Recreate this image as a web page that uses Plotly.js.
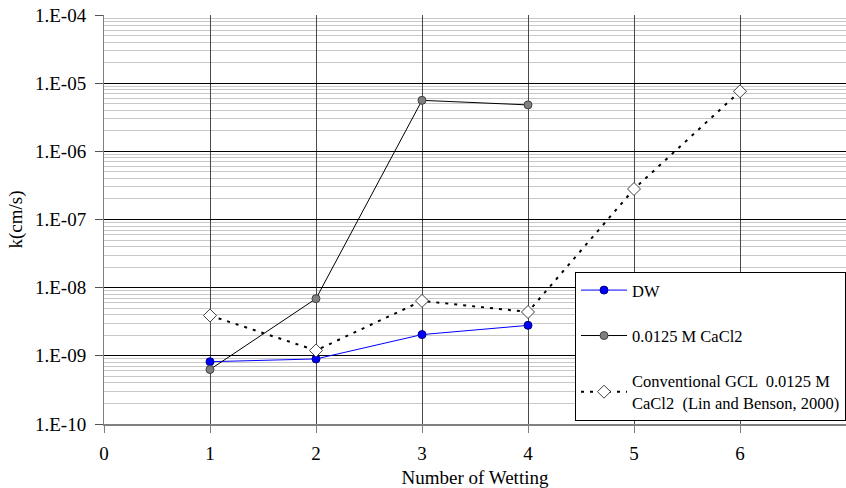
<!DOCTYPE html>
<html><head><meta charset="utf-8">
<script src="https://cdn.plot.ly/plotly-3.0.1.min.js"></script>
<style>html,body{margin:0;padding:0;background:#fff;}#chart{width:846px;height:488px;}</style>
</head><body><div id="chart"></div>
<script>
const wettingDW = [1, 2, 3, 4];
const kDW = [8.2e-10, 9.0e-10, 2.05e-9, 2.8e-9];
const wettingCaCl2 = [1, 2, 3, 4];
const kCaCl2 = [6.3e-10, 6.9e-9, 5.6e-6, 4.8e-6];
const wettingConv = [1, 2, 3, 4, 5, 6];
const kConv = [3.9e-9, 1.2e-9, 6.4e-9, 4.4e-9, 2.8e-7, 7.6e-6];
const yTickVals = [1e-10, 1e-9, 1e-8, 1e-7, 1e-6, 1e-5, 1e-4];
const yTickText = ['1.E-10', '1.E-09', '1.E-08', '1.E-07', '1.E-06', '1.E-05', '1.E-04'];
const xTickVals = [0, 1, 2, 3, 4, 5, 6, 7];

const font = "Liberation Serif";
const traces = [
  {x: wettingDW, y: kDW, name: 'DW', mode: 'lines+markers', legendgroup: 'a',
   line: {color: '#0000ff', width: 1},
   marker: {symbol: 'circle', size: 8, color: '#0000ff', line: {color: '#000080', width: 1}}},
  {x: wettingCaCl2, y: kCaCl2, name: '0.0125 M CaCl2', mode: 'lines+markers', legendgroup: 'b',
   line: {color: '#000000', width: 1},
   marker: {symbol: 'circle', size: 8, color: '#808080', line: {color: '#404040', width: 1}}},
  {x: wettingConv, y: kConv, name: 'Conventional GCL  0.0125 M<br>CaCl2  (Lin and Benson, 2000)', mode: 'lines+markers', legendgroup: 'c',
   line: {color: '#000000', width: 2, dash: '3px,6px'},
   marker: {symbol: 'diamond', size: 10, color: '#ffffff', line: {color: '#404040', width: 1}}}
];
const layout = {
  width: 846, height: 488,
  margin: {l: 104, r: 0, t: 15, b: 64},
  paper_bgcolor: '#ffffff', plot_bgcolor: '#ffffff',
  font: {family: font, size: 19, color: '#000'},
  showlegend: true,
  legend: {x: 0.635, y: 0.372, xanchor: 'left', yanchor: 'top', bgcolor: '#ffffff',
    bordercolor: '#000000', borderwidth: 1, font: {family: font, size: 16.5, color: '#000'},
    tracegroupgap: 21, itemwidth: 46},
  xaxis: {range: [0, 7], tickvals: xTickVals, ticks: 'outside', ticklen: 7, tickcolor: '#808080',
    ticklabelstandoff: 4,
    showgrid: true, gridcolor: '#4a4a4a', gridwidth: 1, zeroline: false,
    showline: true, linecolor: '#808080', linewidth: 2,
    tickfont: {family: font, size: 19},
    title: {text: 'Number of Wetting', font: {family: font, size: 19}, standoff: 8}},
  yaxis: {type: 'log', range: [-10, -4], tickvals: yTickVals, ticktext: yTickText,
    ticks: 'outside', ticklen: 8, tickcolor: '#555', ticklabelstandoff: 5,
    showgrid: true, gridcolor: '#000000', gridwidth: 1,
    showline: true, linecolor: '#808080', linewidth: 1, zeroline: false,
    tickfont: {family: font, size: 19},
    minor: {dtick: 'D1', showgrid: true, gridcolor: '#c8c8c8', gridwidth: 1, ticks: ''},
    title: {text: 'k(cm/s)', font: {family: font, size: 19}, standoff: 7}}
};
Plotly.newPlot('chart', traces, layout, {displayModeBar: false, staticPlot: true});
</script></body></html>
